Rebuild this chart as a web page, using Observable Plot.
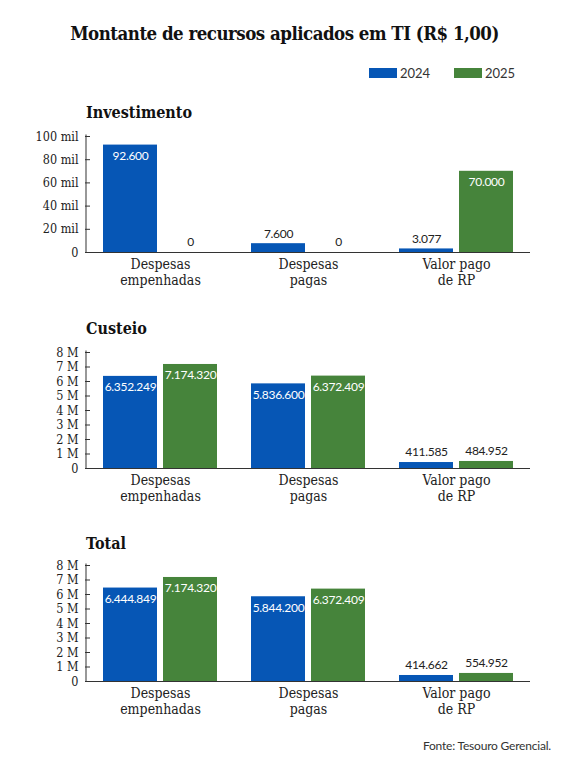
<!DOCTYPE html>
<html>
<head>
<meta charset="utf-8">
<script src="https://cdn.jsdelivr.net/npm/d3@7"></script>
<script src="https://cdn.jsdelivr.net/npm/@observablehq/plot@0.6"></script>
<style>
  body { margin: 0; background: #fff; }
  #page { position: relative; width: 569px; height: 768px; background: #fff; color: #111; }
  .title { position: absolute; left: 0; width: 569px; top: 20px; text-align: center;
    font: bold 18.5px "DejaVu Serif"; font-stretch: condensed; letter-spacing: -0.5px; line-height: 28px; }
  .heading { position: absolute; left: 86px; font: bold 16px "DejaVu Serif"; font-stretch: condensed; }
  .legend { position: absolute; top: 64px; font: 13px Lato; color: #333; }
  .legend span.sw { position: absolute; top: 4px; width: 28px; height: 10px; }
  .legend span.lb { position: absolute; top: 0; line-height: 18px; }
  .chart { position: absolute; left: 0; }
  .caption { position: absolute; right: 18px; top: 738px; font: 12px Lato; color: #333; letter-spacing: -0.2px; }
  g[aria-label="text"] { letter-spacing: -0.3px; }
</style>
</head>
<body>
<div id="page">
  <div class="title">Montante de recursos aplicados em TI (R$ 1,00)</div>
  <div class="legend" id="legend"></div>
  <div class="heading" style="top:103px">Investimento</div>
  <div class="chart" id="c1" style="top:126px"></div>
  <div class="heading" style="top:319px">Custeio</div>
  <div class="chart" id="c2" style="top:342px"></div>
  <div class="heading" style="top:534px">Total</div>
  <div class="chart" id="c3" style="top:555px"></div>
  <div class="caption">Fonte: Tesouro Gerencial.</div>
</div>
<script>
const years = ["2024", "2025"];
const yearColors = ["#0656b5", "#46843b"];

const categories = ["Despesas empenhadas", "Despesas pagas", "Valor pago de RP"];
const categoryLabels = ["Despesas\nempenhadas", "Despesas\npagas", "Valor pago\nde RP"];

const investimento2024 = [92600, 7600, 3077];
const investimento2025 = [0, 0, 70000];
const custeio2024 = [6352249, 5836600, 411585];
const custeio2025 = [7174320, 6372409, 484952];
const total2024 = [6444849, 5844200, 414662];
const total2025 = [7174320, 6372409, 554952];

const milTicks = [0, 20000, 40000, 60000, 80000, 100000];
const milTickLabels = ["0", "20 mil", "40 mil", "60 mil", "80 mil", "100 mil"];
const mTicks = [0, 1e6, 2e6, 3e6, 4e6, 5e6, 6e6, 7e6, 8e6];
const mTickLabels = ["0", "1 M", "2 M", "3 M", "4 M", "5 M", "6 M", "7 M", "8 M"];

const br = d3.formatLocale({decimal: ",", thousands: ".", grouping: [3], currency: ["R$", ""]});
const fmt = br.format(",d");

// legend
const legend = document.querySelector("#legend");
const legendX = [369, 454];
legend.innerHTML = years.map((y, i) =>
  `<span class="sw" style="left:${legendX[i]}px;background:${yearColors[i]}"></span>` +
  `<span class="lb" style="left:${legendX[i] + 31}px">${y}</span>`).join("");

function drawChart(sel, v2024, v2025, ticks, tickLabels) {
  const yMax = ticks[ticks.length - 1];
  const rows = [v2024, v2025].map((vals) => categories.map((c, i) => ({c, v: vals[i]})));
  const width = 569, marginLeft = 85, marginRight = 39;
  const innerW = width - marginLeft - marginRight;
  const bandInset = 60;
  const shift = 30;

  const labels = rows.flatMap((data, k) => {
    const side = k === 0 ? -1 : 1;
    const common = {x: "c", y: "v", text: (d) => fmt(d.v), dx: side * shift,
      fontFamily: "Lato", fontSize: 12};
    return [
      Plot.text(data.filter((d) => d.v / yMax > 0.2), {...common, dy: 11, fill: "white"}),
      Plot.text(data.filter((d) => d.v / yMax <= 0.2), {...common, dy: -10, fill: "#222"})
    ];
  });

  const plot = Plot.plot({
    width,
    height: 166,
    marginLeft,
    marginRight,
    marginTop: 10,
    marginBottom: 40,
    style: {fontFamily: "DejaVu Serif", fontSize: "12.5px", fontStretch: "condensed", color: "#222", background: "white"},
    x: {domain: categories, paddingInner: 0.23, paddingOuter: 0.115, axis: null},
    y: {domain: [0, yMax], axis: null},
    marks: [
      Plot.rectY(rows[0], {x: "c", y: "v", fill: yearColors[0], insetRight: bandInset}),
      Plot.rectY(rows[1], {x: "c", y: "v", fill: yearColors[1], insetLeft: bandInset}),
      // y axis line (thin filled frame on the left edge) and inward ticks
      Plot.frame({fill: "#333", stroke: null, insetRight: innerW - 1, insetTop: -2}),
      Plot.tickY(ticks, {y: (d) => d, stroke: "#333", insetRight: innerW - 5}),
      Plot.ruleY([0], {stroke: "#333", strokeWidth: 1.2}),
      Plot.axisY({ticks, tickFormat: (d) => tickLabels[ticks.indexOf(d)], tickSize: 0,
        tickPadding: 7, label: null}),
      Plot.axisX({tickSize: 0, tickPadding: 5, lineHeight: 1.15, fontSize: 14, label: null,
        tickFormat: (d) => categoryLabels[categories.indexOf(d)]}),
      ...labels
    ]
  });
  document.querySelector(sel).append(plot);
}

drawChart("#c1", investimento2024, investimento2025, milTicks, milTickLabels);
drawChart("#c2", custeio2024, custeio2025, mTicks, mTickLabels);
drawChart("#c3", total2024, total2025, mTicks, mTickLabels);
</script>
</body>
</html>
